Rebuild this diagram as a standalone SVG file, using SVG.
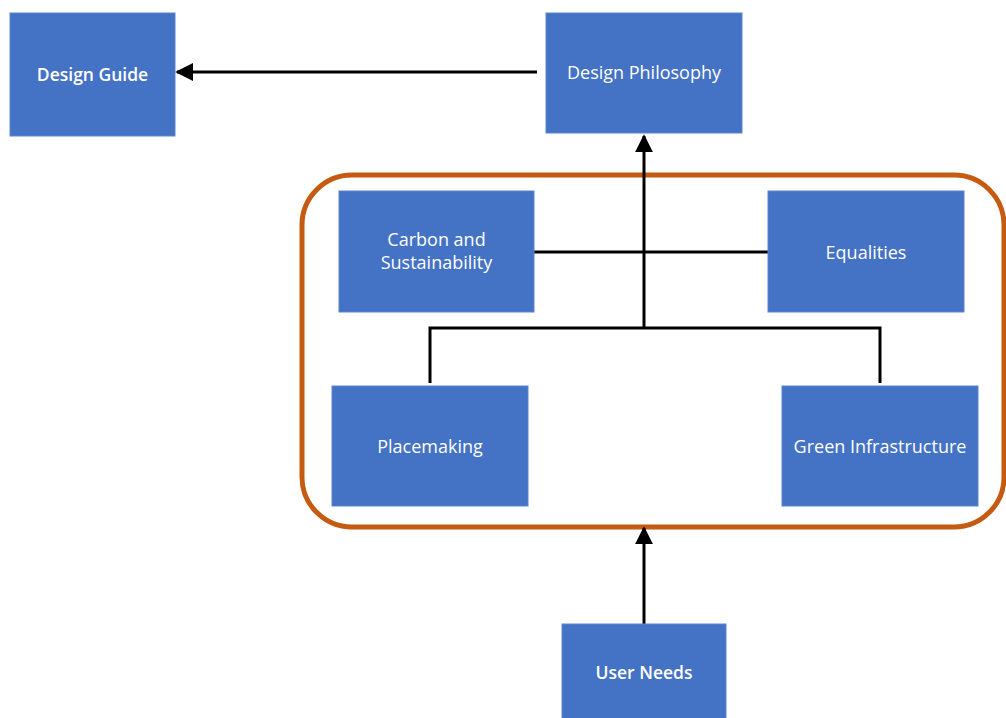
<svg xmlns="http://www.w3.org/2000/svg" width="1006" height="718" viewBox="0 0 1006 718">
  <style>
    .box { fill: #4472C4; stroke: #5B86D0; stroke-width: 1; }
    .lbl { font-family: "Open Sans", "Noto Sans", sans-serif; font-size: 18px; fill: #FFFFFF; text-anchor: middle; dominant-baseline: central; }
    .strong { font-weight: 600; font-size: 17.5px; }
    .wire { fill: none; stroke: #000000; stroke-width: 3; }
    .frame { fill: none; stroke: #C55A11; stroke-width: 5; }
  </style>
  <defs>
    <marker id="head" viewBox="0 0 10 10" refX="9" refY="5" markerWidth="6" markerHeight="6" markerUnits="strokeWidth" orient="auto">
      <path d="M0,0 L10,5 L0,10 z" fill="#000000"/>
    </marker>
  </defs>
  <rect width="1006" height="718" fill="#FFFFFF"/>

  <!-- grouping frame around the four themes -->
  <rect class="frame" x="302" y="175" width="702" height="352" rx="50" ry="50"/>

  <g id="connectors">
    <line class="wire" x1="537" y1="72" x2="177" y2="72" marker-end="url(#head)"/>
    <line class="wire" x1="644" y1="328" x2="644" y2="136" marker-end="url(#head)"/>
    <line class="wire" x1="534" y1="252" x2="768" y2="252"/>
    <polyline class="wire" points="430,383 430,328 880,328 880,383"/>
    <line class="wire" x1="644" y1="626" x2="644" y2="528" marker-end="url(#head)"/>
  </g>

  <g id="design-guide">
    <rect class="box" x="10" y="13" width="165" height="123"/>
    <text class="lbl strong" x="92.5" y="74">Design Guide</text>
  </g>
  <g id="design-philosophy">
    <rect class="box" x="546" y="13" width="196" height="120"/>
    <text class="lbl" x="644" y="72">Design Philosophy</text>
  </g>
  <g id="carbon-sustainability">
    <rect class="box" x="339" y="191" width="195" height="121"/>
    <text class="lbl" x="436.5" y="239">Carbon and</text>
    <text class="lbl" x="436.5" y="262">Sustainability</text>
  </g>
  <g id="equalities">
    <rect class="box" x="768" y="191" width="196" height="121"/>
    <text class="lbl" x="866" y="252">Equalities</text>
  </g>
  <g id="placemaking">
    <rect class="box" x="332" y="386" width="196" height="120"/>
    <text class="lbl" x="430" y="446">Placemaking</text>
  </g>
  <g id="green-infrastructure">
    <rect class="box" x="782" y="386" width="196" height="120"/>
    <text class="lbl" x="880" y="446">Green Infrastructure</text>
  </g>
  <g id="user-needs">
    <rect class="box" x="562" y="624" width="164" height="100"/>
    <text class="lbl strong" x="644" y="672">User Needs</text>
  </g>
</svg>
